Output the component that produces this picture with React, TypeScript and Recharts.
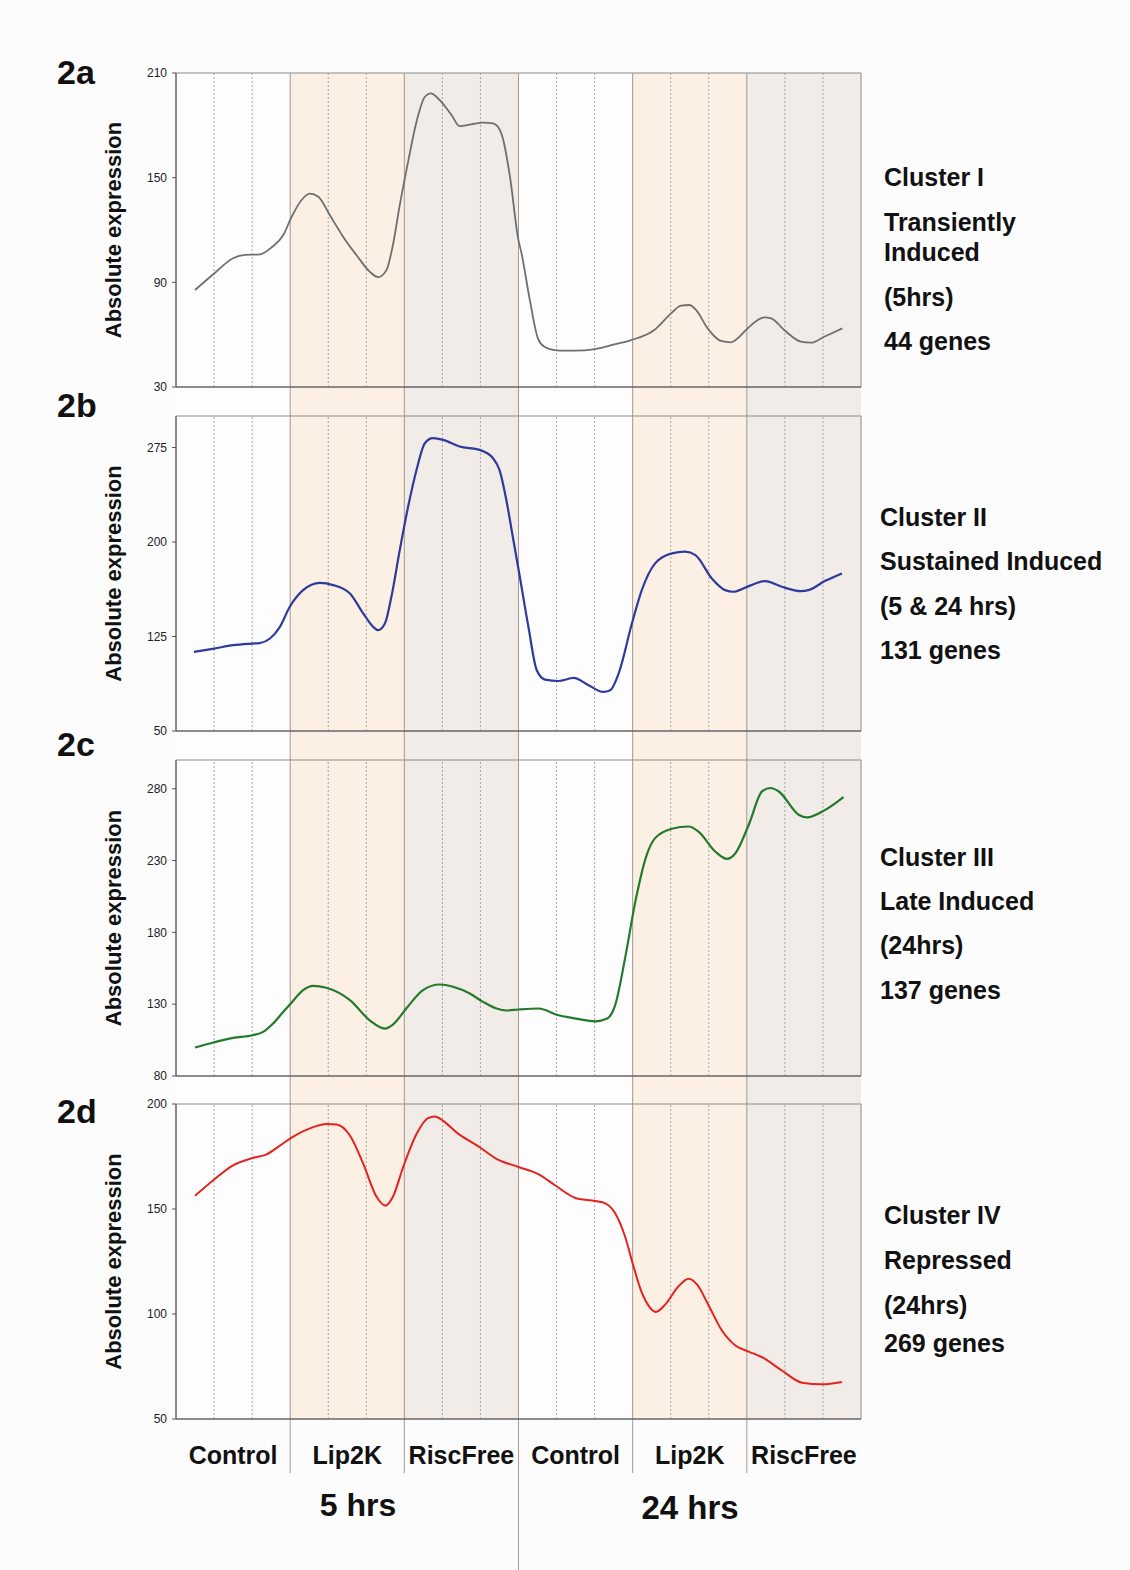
import React from 'react';
import { LineChart, Line, XAxis, YAxis, ReferenceArea, ReferenceLine } from 'recharts';

// ---------- data ----------
const groupNames = ['Control', 'Lip2K', 'RiscFree', 'Control', 'Lip2K', 'RiscFree'];
const groupFills = ['#fdfdfd', '#fcf0e4', '#f1ece8', '#fdfdfd', '#fcf0e4', '#f1ece8'];
const periodLabels = ['5 hrs', '24 hrs'];
const columnsPerGroup = 3;

// [column position (0-18), absolute expression]
const clusterI: [number, number][] = [
  [0.5, 85.6], [0.98, 94.6], [1.5, 103.8], [1.81, 105.7], [2.2, 106], [2.51, 110], [2.82, 117.1],
  [3.04, 127.6], [3.3, 137.2], [3.52, 140.8], [3.74, 139.1], [4.04, 128.6], [4.39, 116.2], [4.74, 105.7],
  [5.09, 96.1], [5.31, 93], [5.53, 97], [5.7, 111.4], [5.88, 134.3], [6.1, 159.2], [6.32, 182.1],
  [6.54, 196.4], [6.69, 198.3], [6.93, 194.5], [7.24, 185.9], [7.45, 179.6], [7.76, 180.6], [8.07, 181.5],
  [8.33, 181.1], [8.46, 179.2], [8.59, 172.5], [8.77, 151.5], [9.0, 114], [9.07, 107.6], [9.29, 80.8],
  [9.51, 57.9], [9.68, 53.1], [9.95, 51.2], [10.21, 50.8], [10.73, 51], [11.04, 51.8], [11.52, 54.4],
  [11.96, 56.9], [12.57, 62.7], [13.01, 72.2], [13.27, 76.6], [13.49, 77], [13.67, 74.1], [13.97, 63.6],
  [14.32, 56.4], [14.58, 55.6], [14.76, 57.9], [15.02, 63.6], [15.46, 69.9], [15.64, 69.4], [15.98, 62.7],
  [16.42, 56], [16.69, 55.4], [17.03, 58.8], [17.51, 63.6],
];
const clusterII: [number, number][] = [
  [0.47, 112.8], [1.0, 115.4], [1.5, 118.1], [2.0, 119.4], [2.2, 119.8], [2.47, 123.4], [2.73, 132.7],
  [2.99, 148.6], [3.34, 161.8], [3.78, 167.6], [4.13, 165.8], [4.57, 159.2], [4.92, 143.3], [5.18, 132.7],
  [5.31, 130], [5.49, 135.3], [5.66, 156.5], [5.88, 193.6], [6.1, 228.1], [6.32, 257.2], [6.54, 278.4],
  [6.75, 282.4], [7.02, 281.1], [7.45, 275.8], [7.98, 273.1], [8.33, 266.5], [8.5, 257.2], [8.68, 233.4],
  [8.85, 204.2], [9.02, 175], [9.26, 132.7], [9.48, 98.2], [9.7, 90.8], [10.05, 89.7], [10.45, 92.1],
  [10.84, 86.3], [11.23, 81], [11.41, 82.3], [11.63, 95.6], [11.98, 135.3], [12.24, 161.8], [12.59, 183],
  [13.03, 191], [13.38, 192.3], [13.65, 189.6], [14.08, 171.1], [14.43, 161.8], [14.65, 160.5], [15.05, 165],
  [15.48, 169], [15.92, 164.5], [16.41, 161], [16.62, 161.8], [17.06, 169.2], [17.5, 175.1],
];
const clusterIII: [number, number][] = [
  [0.5, 99.8], [0.98, 103.3], [1.5, 106.5], [2.01, 108.4], [2.29, 110.7], [2.55, 116.5], [2.82, 124.7],
  [3.04, 131.2], [3.34, 139.8], [3.6, 142.8], [3.95, 141.4], [4.57, 132.8], [5.09, 118.8], [5.49, 113],
  [5.7, 115.8], [6.05, 127], [6.49, 139.8], [6.93, 143.7], [7.28, 142.1], [7.72, 137.4], [8.07, 131.6],
  [8.42, 127], [8.68, 125.6], [9.0, 126.3], [9.53, 127], [10.05, 122.3], [10.4, 120.5], [11.02, 118.1],
  [11.33, 120], [11.54, 129.3], [11.8, 161.9], [12.07, 201.4], [12.37, 234], [12.59, 245.6], [13.03, 252.1],
  [13.47, 253.7], [13.73, 250.2], [14.17, 236.3], [14.48, 231.2], [14.7, 235.1], [15.05, 254.9], [15.4, 278.1],
  [15.62, 280.5], [15.84, 278.1], [16.36, 261.9], [16.58, 260], [17.06, 265.3], [17.54, 274.2],
];
const clusterIV: [number, number][] = [
  [0.5, 156.3], [0.98, 163.7], [1.5, 170.8], [2.01, 174.3], [2.38, 176], [2.73, 180.2], [3.08, 184.5],
  [3.52, 188.4], [3.95, 190.5], [4.22, 190.2], [4.57, 185], [4.92, 171.6], [5.27, 155.8], [5.51, 151.6],
  [5.7, 155.8], [5.97, 170], [6.32, 185.7], [6.62, 193.3], [6.8, 194.1], [7.02, 192], [7.37, 186.5],
  [7.98, 179.4], [8.42, 173.9], [9.0, 170], [9.53, 166.5], [9.96, 161.3], [10.53, 155], [11.02, 153.8],
  [11.28, 152.7], [11.54, 148], [11.8, 136.9], [12.02, 122.8], [12.24, 110.2], [12.42, 103.9], [12.61, 101],
  [12.86, 104.6], [13.21, 113.3], [13.47, 116.8], [13.69, 114.1], [14.0, 103.9], [14.35, 92], [14.7, 85],
  [15.05, 82.1], [15.4, 79.4], [15.92, 73.1], [16.45, 67.3], [16.97, 66.5], [17.5, 67.6],
];

const ticksI = [30, 90, 150, 210];
const ticksII = [50, 125, 200, 275];
const ticksIII = [80, 130, 180, 230, 280];
const ticksIV = [50, 100, 150, 200];

const domainI: [number, number] = [30, 210];
const domainII: [number, number] = [50, 300];
const domainIII: [number, number] = [80, 300];
const domainIV: [number, number] = [50, 200];

const panelIds = ['2a', '2b', '2c', '2d'];
const textI = ['Cluster I', 'Transiently', 'Induced', '(5hrs)', '44 genes'];
const textII = ['Cluster II', 'Sustained Induced', '(5 & 24 hrs)', '131 genes'];
const textIII = ['Cluster III', 'Late Induced', '(24hrs)', '137 genes'];
const textIV = ['Cluster IV', 'Repressed', '(24hrs)', '269 genes'];

// ---------- layout ----------
const W = 1130;
const H = 1570;
const PLOT_LEFT = 176;
const PLOT_RIGHT = 861;
const RIGHT_M = W - PLOT_RIGHT;
const FONT = '"Liberation Sans", Arial, Helvetica, sans-serif';
const TOTAL_COLS = groupNames.length * columnsPerGroup;
const colCenters = Array.from({ length: TOTAL_COLS }, (_, i) => i + 0.5);
const innerLines = Array.from({ length: TOTAL_COLS - 1 }, (_, i) => i + 1).filter((v) => v % columnsPerGroup !== 0);
const groupEdges = Array.from({ length: groupNames.length - 1 }, (_, i) => (i + 1) * columnsPerGroup);
const groupCenters = groupNames.map((_, i) => i * columnsPerGroup + columnsPerGroup / 2);
const EDGE_COLOR = '#a39a92';

const panels = [
  { id: panelIds[0], pts: clusterI, domain: domainI, ticks: ticksI, color: '#6f6f6f', width: 1.8, top: 73, bottom: 387,
    text: textI, textX: 884, textYs: [177, 222, 252, 297, 341], labelY: 72 },
  { id: panelIds[1], pts: clusterII, domain: domainII, ticks: ticksII, color: '#2e3a9c', width: 2.2, top: 416, bottom: 731,
    text: textII, textX: 880, textYs: [517, 561, 606, 650], labelY: 405 },
  { id: panelIds[2], pts: clusterIII, domain: domainIII, ticks: ticksIII, color: '#237a2c', width: 2.2, top: 760, bottom: 1076,
    text: textIII, textX: 880, textYs: [857, 901, 945, 990], labelY: 744 },
  { id: panelIds[3], pts: clusterIV, domain: domainIV, ticks: ticksIV, color: '#e3231f', width: 2, top: 1104, bottom: 1419,
    text: textIV, textX: 884, textYs: [1215, 1260, 1305, 1343], labelY: 1111 },
];

const BG_TOP = 73;
const BG_BANDS_END = 1419 - BG_TOP;
const SEP_END = 1473 - BG_TOP;
const BG_H = H - BG_TOP;

function Background() {
  return (
    <div style={{ position: 'absolute', left: 0, top: 0 }}>
      <LineChart width={W} height={H} data={[{ x: 0, y: 0 }, { x: TOTAL_COLS, y: BG_H }]}
        margin={{ top: BG_TOP, left: PLOT_LEFT, right: RIGHT_M, bottom: 0 }}>
        <XAxis dataKey="x" type="number" domain={[0, TOTAL_COLS]} height={0} axisLine={false} tick={false} tickLine={false} />
        <YAxis type="number" domain={[0, BG_H]} reversed width={0} axisLine={false} tick={false} tickLine={false} />
        {groupNames.map((g, i) => (
          <ReferenceArea key={'b' + i} x1={i * columnsPerGroup} x2={(i + 1) * columnsPerGroup} y1={0} y2={BG_BANDS_END}
            fill={groupFills[i]} fillOpacity={1} stroke="none" ifOverflow="visible" />
        ))}
        {groupEdges.map((e) => (
          <ReferenceLine key={'s' + e} segment={[{ x: e, y: 0 }, { x: e, y: e === TOTAL_COLS / 2 ? BG_H : SEP_END }]}
            stroke={EDGE_COLOR} strokeWidth={1} ifOverflow="visible" />
        ))}
        <Line dataKey="y" stroke="none" dot={false} activeDot={false} isAnimationActive={false} />
      </LineChart>
    </div>
  );
}

function Panel({ p }: { p: typeof panels[number] }) {
  const PAD = 10;
  const XH = 8;
  const h = p.bottom - p.top;
  const data = p.pts.map(([x, y]) => ({ x, y }));
  return (
    <div style={{ position: 'absolute', left: 0, top: p.top - PAD }}>
      <LineChart width={W} height={PAD + h + XH} data={data} margin={{ top: PAD, right: RIGHT_M, bottom: 0, left: 100 }}>
        <XAxis dataKey="x" type="number" domain={[0, TOTAL_COLS]} ticks={colCenters} tick={false} tickSize={3}
          height={XH} axisLine={{ stroke: '#555' }} tickLine={{ stroke: '#666' }} interval={0} />
        <YAxis type="number" domain={p.domain} ticks={p.ticks} width={76} tickSize={4} tickMargin={5} interval={0}
          axisLine={{ stroke: '#555' }} tickLine={{ stroke: '#555' }}
          tick={{ fontSize: 12, fill: '#222', fontFamily: FONT }}
          label={{ value: 'Absolute expression', angle: -90, position: 'insideLeft', offset: 13,
            style: { textAnchor: 'middle', fontSize: 22, fontWeight: 'bold', fill: '#111', fontFamily: FONT } }} />
        {groupNames.map((g, i) => (
          <ReferenceArea key={'pb' + i} x1={i * columnsPerGroup} x2={(i + 1) * columnsPerGroup} y1={p.domain[0]} y2={p.domain[1]}
            fill={groupFills[i]} fillOpacity={1} stroke="none" />
        ))}
        {innerLines.map((v) => (
          <ReferenceLine key={'d' + v} x={v} stroke="#a5a5a5" strokeDasharray="2 2" strokeWidth={1} />
        ))}
        {groupEdges.map((e) => (
          <ReferenceLine key={'e' + e} x={e} stroke={EDGE_COLOR} strokeWidth={1} />
        ))}
        <ReferenceArea x1={0} x2={TOTAL_COLS} y1={p.domain[0]} y2={p.domain[1]} fill="none" stroke="#8a8a8a" strokeWidth={1} />
        <Line type="monotone" dataKey="y" stroke={p.color} strokeWidth={p.width} dot={false} activeDot={false} isAnimationActive={false} />
      </LineChart>
    </div>
  );
}

function GroupLabels() {
  const top = 1419;
  const axisH = 40;
  return (
    <div style={{ position: 'absolute', left: 0, top }}>
      <LineChart width={W} height={axisH + 21} data={[{ x: 0, y: 0 }, { x: TOTAL_COLS, y: 1 }]}
        margin={{ top: 0, right: RIGHT_M, bottom: 0, left: PLOT_LEFT }}>
        <XAxis dataKey="x" type="number" domain={[0, TOTAL_COLS]} ticks={groupCenters} interval={0}
          tickFormatter={(v: number) => groupNames[Math.floor(v / columnsPerGroup)]}
          axisLine={false} tickLine={false} tickSize={0} tickMargin={6} height={axisH}
          tick={{ fontSize: 25, fontWeight: 'bold', fill: '#111', fontFamily: FONT }} />
        <YAxis type="number" domain={[0, 1]} hide />
        <Line dataKey="y" stroke="none" dot={false} activeDot={false} isAnimationActive={false} />
      </LineChart>
    </div>
  );
}

const textStyle: React.CSSProperties = {
  position: 'absolute', fontFamily: FONT, fontWeight: 'bold', fontSize: 25, lineHeight: '30px',
  color: '#111', whiteSpace: 'nowrap',
};

export default function App() {
  return (
    <div style={{ position: 'absolute', left: 0, top: 0, width: W, height: H, background: '#fcfcfc', overflow: 'hidden', fontFamily: FONT }}>
      <Background />
      {panels.map((p) => (
        <Panel key={p.id} p={p} />
      ))}
      <GroupLabels />
      {panels.map((p) => (
        <div key={'l' + p.id} style={{ ...textStyle, fontSize: 34, lineHeight: '40px', left: 57, top: p.labelY - 20 }}>{p.id}</div>
      ))}
      {panels.map((p) =>
        p.text.map((t, i) => (
          <div key={p.id + 't' + i} style={{ ...textStyle, left: p.textX, top: p.textYs[i] - 15 }}>{t}</div>
        ))
      )}
      <div style={{ ...textStyle, fontSize: 32, lineHeight: '40px', left: 358, top: 1505 - 20, transform: 'translateX(-50%)' }}>{periodLabels[0]}</div>
      <div style={{ ...textStyle, fontSize: 33, lineHeight: '40px', left: 690, top: 1508 - 20, transform: 'translateX(-50%)' }}>{periodLabels[1]}</div>
    </div>
  );
}
